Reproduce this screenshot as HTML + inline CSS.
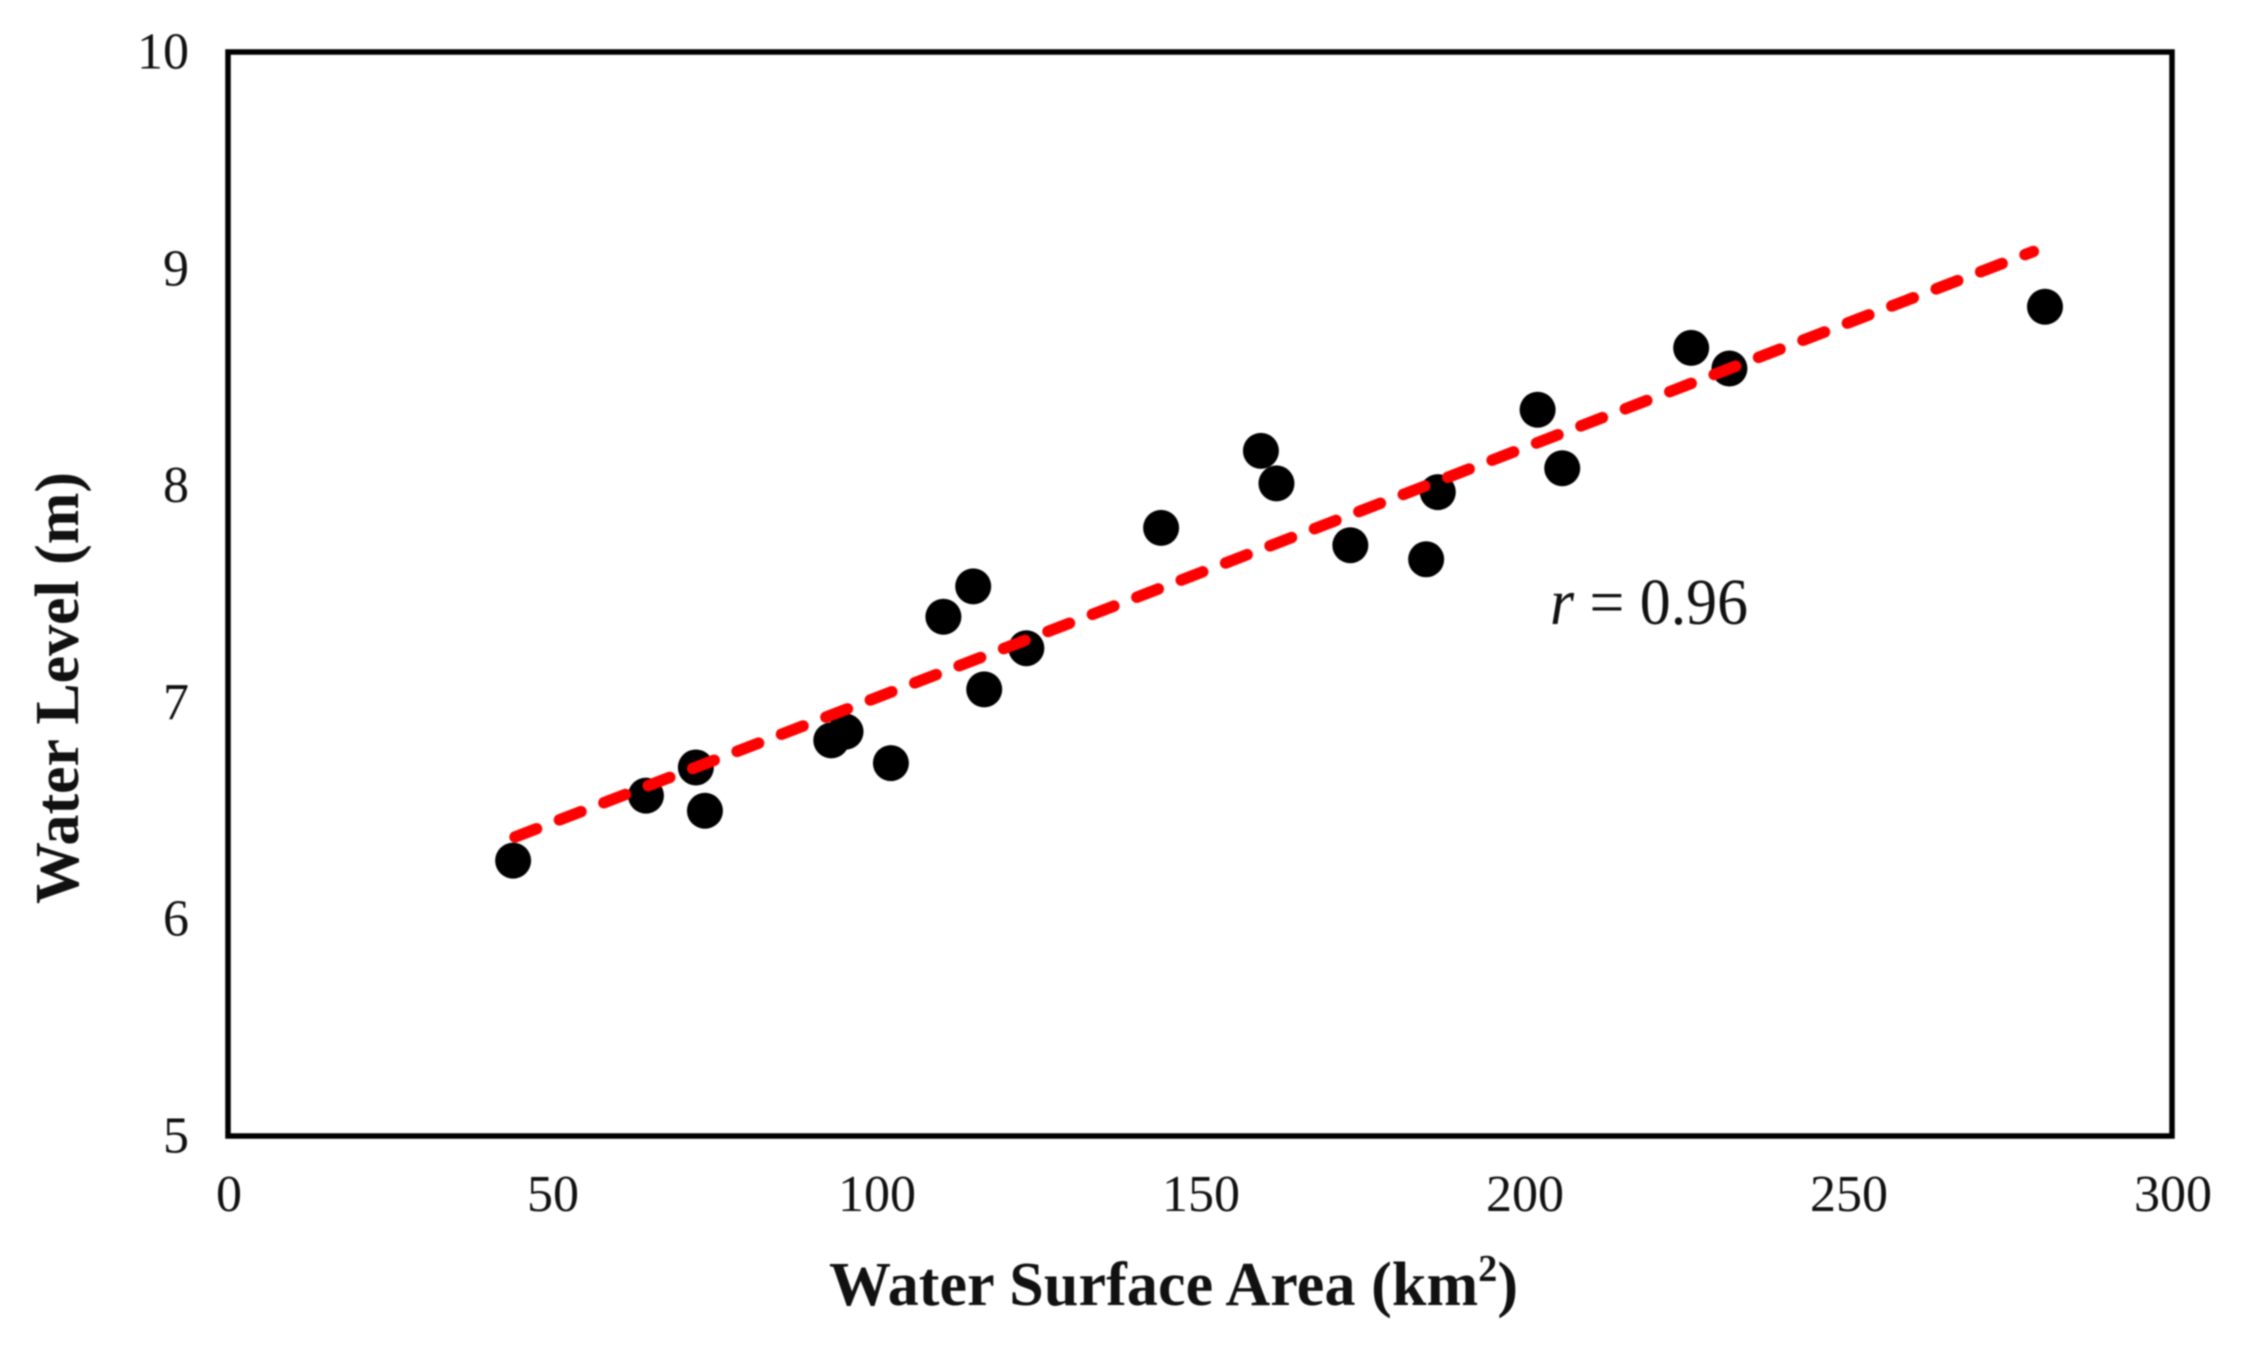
<!DOCTYPE html>
<html lang="en">
<head>
<meta charset="utf-8">
<title>Water Level vs Water Surface Area</title>
<style>
html,body{margin:0;padding:0;background:#fff;}
svg{display:block;filter:blur(0.7px);}
text{font-family:"Liberation Serif",serif;fill:#111;}
</style>
</head>
<body>
<svg id="chart" xmlns="http://www.w3.org/2000/svg" width="2244" height="1348" viewBox="0 0 2244 1348">
  <rect x="0" y="0" width="2244" height="1348" fill="#ffffff"/>
  <rect x="228" y="52" width="1944" height="1084" fill="none" stroke="#000" stroke-width="5.5"/>
  <g id="x-ticks"></g>
  <g id="y-ticks"></g>
  <g id="points"></g>
  <line id="trend" stroke="#ff0000" stroke-width="11.5" stroke-linecap="round" stroke-dasharray="23 24.6"></line>
  <text x="1550" y="624" font-size="66" textLength="198" lengthAdjust="spacingAndGlyphs"><tspan font-style="italic">r</tspan> = 0.96</text>
  <text x="829" y="1305" font-size="62" font-weight="bold" textLength="689" lengthAdjust="spacing" fill="#000">Water Surface Area (km<tspan font-size="38" dy="-24">2</tspan><tspan dy="24">)</tspan></text>
  <text transform="translate(78,904) rotate(-90)" x="0" y="0" font-size="62" font-weight="bold" textLength="432" lengthAdjust="spacing" fill="#000">Water Level (m)</text>
</svg>
<script>
const xTickValues = [0, 50, 100, 150, 200, 250, 300];
const yTickValues = [5, 6, 7, 8, 9, 10];
const waterArea = [44.0, 64.5, 72.2, 73.6, 93.1, 95.3, 102.3, 110.4, 115.0, 116.7, 123.2, 144.0, 159.4, 161.8, 173.2, 184.9, 186.7, 202.1, 205.9, 225.8, 231.7, 280.4];
const waterLevel = [6.27, 6.57, 6.70, 6.50, 6.825, 6.865, 6.72, 7.395, 7.535, 7.06, 7.25, 7.805, 8.16, 8.01, 7.725, 7.66, 7.97, 8.35, 8.08, 8.635, 8.54, 8.825];
const trendArea = [44.3, 278.6];
const trendLevel = [6.379, 9.08];

const SVG_NS = 'http://www.w3.org/2000/svg';
const plot = { left: 228, right: 2172, top: 52, bottom: 1136 };
const xMin = 0, xMax = 300, yMin = 5, yMax = 10;
function xScale(v) { return plot.left + (v - xMin) / (xMax - xMin) * (plot.right - plot.left); }
function yScale(v) { return plot.bottom - (v - yMin) / (yMax - yMin) * (plot.bottom - plot.top); }

const xGroup = document.getElementById('x-ticks');
xTickValues.forEach(function (v) {
  const t = document.createElementNS(SVG_NS, 'text');
  
  
  t.setAttribute('x', xScale(v) + 1);
  t.setAttribute('y', 1211);
  t.setAttribute('font-size', 52);
  t.setAttribute('text-anchor', 'middle');
  t.textContent = String(v);
  xGroup.appendChild(t);
});

const yGroup = document.getElementById('y-ticks');
yTickValues.forEach(function (v) {
  const t = document.createElementNS(SVG_NS, 'text');
  
  
  t.setAttribute('x', 189);
  t.setAttribute('y', yScale(v) + 16.5);
  t.setAttribute('font-size', 52);
  t.setAttribute('text-anchor', 'end');
  t.textContent = String(v);
  yGroup.appendChild(t);
});

const pointGroup = document.getElementById('points');
waterArea.forEach(function (a, i) {
  const c = document.createElementNS(SVG_NS, 'circle');
  
  
  c.setAttribute('cx', xScale(a));
  c.setAttribute('cy', yScale(waterLevel[i]));
  c.setAttribute('r', 18);
  c.setAttribute('fill', '#000');
  pointGroup.appendChild(c);
});

const trend = document.getElementById('trend');
trend.setAttribute('x1', xScale(trendArea[0]));
trend.setAttribute('y1', yScale(trendLevel[0]));
trend.setAttribute('x2', xScale(trendArea[1]));
trend.setAttribute('y2', yScale(trendLevel[1]));
</script>
</body>
</html>
